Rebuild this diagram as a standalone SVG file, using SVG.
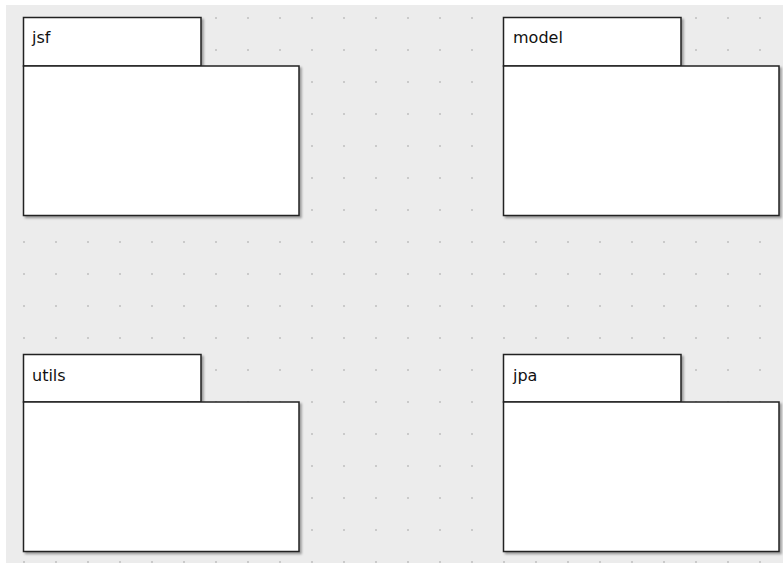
<svg xmlns="http://www.w3.org/2000/svg" width="783" height="563" viewBox="0 0 783 563">
  <defs>
    <pattern id="dots" x="0" y="0" width="32" height="32" patternUnits="userSpaceOnUse">
      <rect x="23" y="17" width="2" height="2" fill="#cacaca"/>
    </pattern>
    <filter id="shadow" x="-5%" y="-5%" width="115%" height="115%">
      <feDropShadow dx="2" dy="2" stdDeviation="0.8" flood-color="#000" flood-opacity="0.35"/>
    </filter>
  </defs>
  <style>
    .tab, .body { fill: #ffffff; stroke: #222222; stroke-width: 1.5; }
    .pkg { filter: url(#shadow); }
    .label { font-family: "DejaVu Sans", "Liberation Sans", sans-serif; font-size: 16px; fill: #111111; }
  </style>
  <rect x="0" y="0" width="783" height="563" fill="#ffffff"/>
  <rect x="6" y="5" width="777" height="558" fill="#ececec"/>
  <rect x="6" y="5" width="777" height="558" fill="url(#dots)"/>

  <g id="jsf">
    <g class="pkg">
      <rect class="tab" x="23.5" y="17.5" width="177.5" height="48.5"/>
      <rect class="body" x="23.5" y="66" width="275.5" height="149.5"/>
    </g>
    <text class="label" x="32" y="43">jsf</text>
  </g>

  <g id="model">
    <g class="pkg">
      <rect class="tab" x="503.5" y="17.5" width="177.5" height="48.5"/>
      <rect class="body" x="503.5" y="66" width="275.5" height="149.5"/>
    </g>
    <text class="label" x="513" y="43">model</text>
  </g>

  <g id="utils">
    <g class="pkg">
      <rect class="tab" x="23.5" y="354.5" width="177.5" height="47.5"/>
      <rect class="body" x="23.5" y="402" width="275.5" height="149.5"/>
    </g>
    <text class="label" x="32" y="381">utils</text>
  </g>

  <g id="jpa">
    <g class="pkg">
      <rect class="tab" x="503.5" y="354.5" width="177.5" height="47.5"/>
      <rect class="body" x="503.5" y="402" width="275.5" height="149.5"/>
    </g>
    <text class="label" x="513" y="381">jpa</text>
  </g>

  <g id="connectors"></g>
</svg>
